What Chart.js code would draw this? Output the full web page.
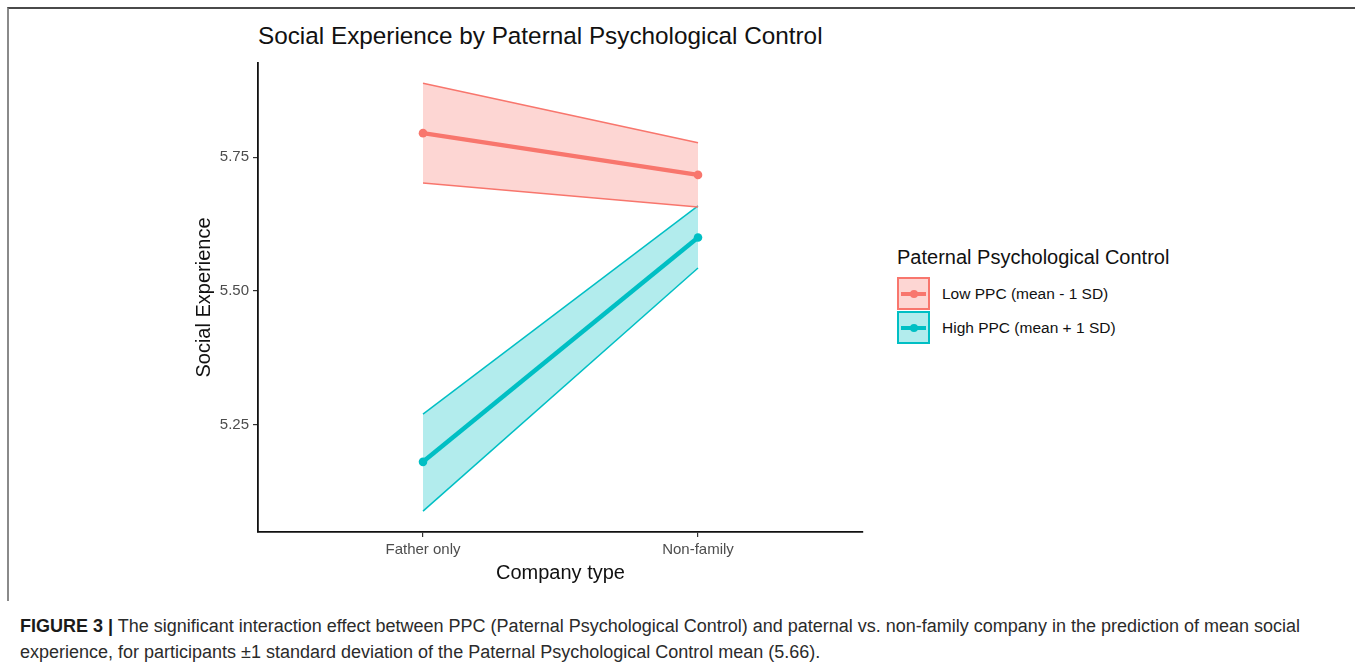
<!DOCTYPE html>
<html>
<head>
<meta charset="utf-8">
<script src="https://cdn.jsdelivr.net/npm/chart.js@4.4.1/dist/chart.umd.min.js"></script>
<style>
  body { margin: 0; background: #fff; font-family: "Liberation Sans", Arial, sans-serif; }
  #frame { position: absolute; left: 7px; top: 7px; width: 1348px; height: 592px;
           border-top: 2px solid #4a4a4a; border-left: 2px solid #8a8a8a; }
  #titulo { position: absolute; left: 258px; top: 22px; font-size: 24.3px; line-height: 28px; color: #111; white-space: nowrap; }
  #grafico { position: absolute; left: 150px; top: 50px; }
  #leyenda { position: absolute; left: 897px; top: 245px; }
  #leyenda .tit { font-size: 20px; line-height: 24px; color: #111; white-space: nowrap; }
  .item { position: absolute; left: 0; width: 300px; height: 33px; }
  .caja { position: absolute; left: 0; top: 0; width: 29px; height: 29px; border: 2px solid; }
  .caja .linea { position: absolute; left: 2px; right: 2px; top: 12.5px; height: 4px; }
  .caja .punto { position: absolute; left: 10.5px; top: 10.5px; width: 8px; height: 8px; border-radius: 50%; }
  .item .txt { position: absolute; left: 45px; top: 7px; font-size: 15.5px; line-height: 19px; color: #111; white-space: nowrap; }
  #pie { position: absolute; left: 20px; top: 613px; font-size: 18px; line-height: 26px; color: #2b2b2b; white-space: nowrap; }
  #pie b { color: #1a1a1a; }
</style>
</head>
<body>
<div id="frame"></div>
<div id="titulo">Social Experience by Paternal Psychological Control</div>
<canvas id="grafico" width="730" height="550"></canvas>
<div id="leyenda"></div>
<div id="pie"><b>FIGURE 3 |</b> The significant interaction effect between PPC (Paternal Psychological Control) and paternal vs. non-family company in the prediction of mean social<br>experience, for participants ±1 standard deviation of the Paternal Psychological Control mean (5.66).</div>
<script>
const categorias = ['Father only', 'Non-family'];
const series = ['Low PPC (mean - 1 SD)', 'High PPC (mean + 1 SD)'];

const bajoMedia = [5.795, 5.717];
const bajoSup = [5.888, 5.777];
const bajoInf = [5.702, 5.657];

const altoMedia = [5.181, 5.600];
const altoSup = [5.270, 5.659];
const altoInf = [5.089, 5.543];

const ticksY = [5.25, 5.50, 5.75];

const rojo = '#F8766D';
const rojoClaro = 'rgba(248,118,109,0.3)';
const verde = '#00BFC4';
const verdeClaro = 'rgba(0,191,196,0.3)';

function puntos(valores) {
    return valores.map((v, i) => ({ x: i + 1, y: v }));
}

function banda(sup, inf, color, relleno) {
    return [
        { data: puntos(sup), borderColor: color, borderWidth: 1.5, pointRadius: 0, backgroundColor: relleno, fill: '+1' },
        { data: puntos(inf), borderColor: color, borderWidth: 1.5, pointRadius: 0, fill: false }
    ];
}

function media(valores, color) {
    return { data: puntos(valores), borderColor: color, backgroundColor: color, borderWidth: 4.5,
             pointRadius: 4.3, pointBorderWidth: 0, pointBackgroundColor: color, fill: false };
}

const ctx = document.getElementById('grafico').getContext('2d');

const grafico = new Chart(ctx, {
    type: 'line',
    data: {
        datasets: [
            ...banda(bajoSup, bajoInf, rojo, rojoClaro),
            ...banda(altoSup, altoInf, verde, verdeClaro),
            media(bajoMedia, rojo),
            media(altoMedia, verde)
        ]
    },
    options: {
        responsive: false,
        animation: false,
        devicePixelRatio: 1,
        layout: { autoPadding: false, padding: { left: 0, right: 17, top: 10, bottom: 0 } },
        plugins: { legend: { display: false }, tooltip: { enabled: false } },
        scales: {
            x: {
                type: 'linear',
                min: 0.4,
                max: 2.6,
                afterBuildTicks: s => { s.ticks = categorias.map((c, i) => ({ value: i + 1 })); },
                afterFit: s => { s.height = 68; },
                ticks: {
                    font: { family: 'Liberation Sans', size: 15 },
                    color: '#4d4d4d',
                    padding: 4,
                    maxRotation: 0,
                    callback: v => categorias[v - 1]
                },
                grid: { drawOnChartArea: false, drawTicks: true, tickLength: 5, color: '#333', lineWidth: 1.2 },
                border: { display: true, color: '#111', width: 1.8 },
                title: { display: true, text: 'Company type', color: '#111',
                         font: { family: 'Liberation Sans', size: 20 }, padding: { top: 0, bottom: 15 } }
            },
            y: {
                min: 5.05,
                max: 5.926,
                afterBuildTicks: s => { s.ticks = ticksY.map(v => ({ value: v })); },
                afterFit: s => { s.width = 108; },
                ticks: {
                    font: { family: 'Liberation Sans', size: 15 },
                    color: '#4d4d4d',
                    padding: 4,
                    callback: v => v.toFixed(2)
                },
                grid: { drawOnChartArea: false, drawTicks: true, tickLength: 5, color: '#333', lineWidth: 1.2 },
                border: { display: true, color: '#111', width: 1.8 },
                title: { display: true, text: 'Social Experience', color: '#111',
                         font: { family: 'Liberation Sans', size: 20 }, padding: { top: 42, bottom: 0 } }
            }
        }
    }
});

// leyenda a la derecha, como la de ggplot
const leyenda = document.getElementById('leyenda');
leyenda.innerHTML = '<div class="tit">Paternal Psychological Control</div>';
[[rojo, rojoClaro], [verde, verdeClaro]].forEach(([color, claro], i) => {
    const item = document.createElement('div');
    item.className = 'item';
    item.style.top = (32 + i * 34) + 'px';
    item.innerHTML = `<div class="caja" style="border-color:${color};background:${claro}">
        <div class="linea" style="background:${color}"></div>
        <div class="punto" style="background:${color}"></div></div>
        <div class="txt">${series[i]}</div>`;
    leyenda.appendChild(item);
});
</script>
</body>
</html>
